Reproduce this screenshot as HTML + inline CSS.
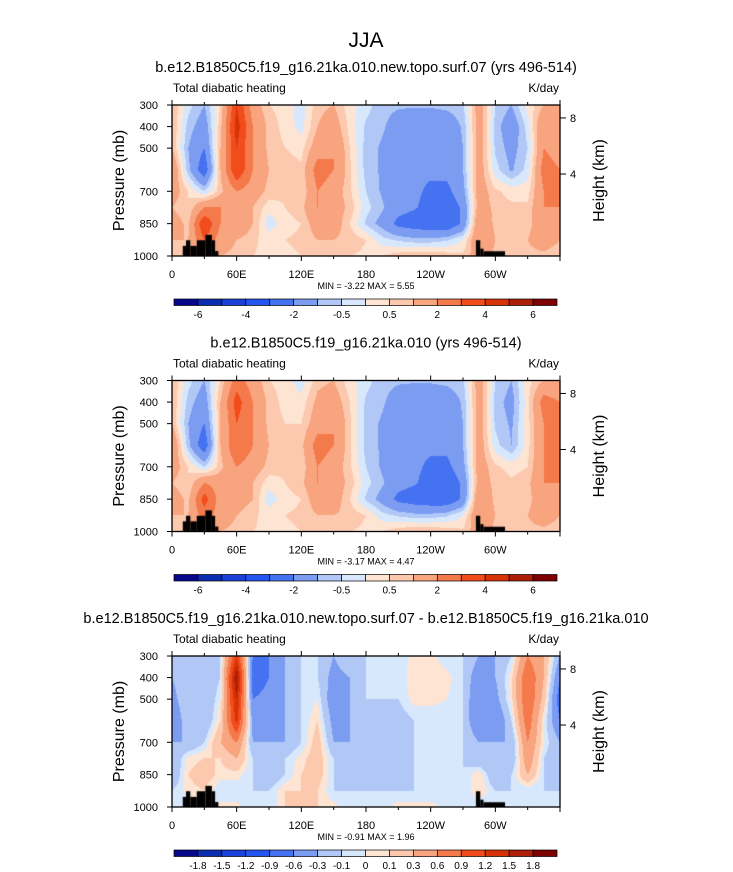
<!DOCTYPE html>
<html><head><meta charset="utf-8"><style>
body{margin:0;background:#fff;}
#wrap{position:relative;width:733px;height:872px;overflow:hidden;font-family:"Liberation Sans",Arial,sans-serif;}
canvas{position:absolute;left:0;top:0;}
svg{position:absolute;left:0;top:0;}
</style></head><body>
<div id="wrap">
<canvas id="cv" width="733" height="872"></canvas>
<svg id="sv" width="733" height="872"></svg>
</div>
<script>
// ---------- data ----------
const lons = [0,15,30,45,60,75,90,105,120,135,150,165,180,195,210,225,240,255,270,285,300,315,330,345,360];
const levels = [300,400,500,600,700,775,850,925,1000];
const field1 = [
[1,-0.3,-1,0.5,4,1.5,0.5,0.3,-0.3,0.8,1,0.2,-0.3,-0.8,-0.9,-0.9,-0.9,-0.8,-0.6,1.5,-0.5,-1,0.2,1,1],
[1,-0.7,-1.5,0.8,4.5,2,0.8,0.3,-0.2,1,1.5,0.3,-0.6,-0.9,-1.4,-1.7,-1.7,-1.6,-0.9,1.5,-0.7,-1.6,-0.3,2,1],
[1,-1,-2,1,4,2,0.8,0.5,0.3,1.5,2,0.5,-0.7,-1.1,-1.6,-1.8,-1.8,-1.7,-1,1.5,-0.6,-1.3,-0.5,2,1.5],
[2,-0.8,-2.8,1,4,2,1,0.8,0.6,2.5,2,0.6,-0.7,-1.1,-1.6,-1.8,-1.8,-1.7,-1,1.5,-0.3,-1.1,-0.3,2.5,2],
[1.5,0.5,-0.5,0.8,2,1.5,0.8,0.6,0.5,2,1.5,0.6,-0.5,-1.1,-1.6,-1.8,-2.2,-2.3,-1.3,1.5,0.6,0.3,0.3,2,2],
[1,0.5,2,2,1.5,1,0.2,0.5,0.8,2,1.5,0.8,-0.3,-0.9,-1.6,-1.9,-2.4,-2.8,-1.8,1.5,0.8,0.6,0.6,2,2],
[1.5,0.8,4,2,2,1,-0.3,0.3,0.5,1.5,1.5,0.5,-0.6,-1.3,-2.3,-2.6,-2.8,-3,-1.8,2,0.8,0.8,0.8,1.5,1.5],
[1,1,3,1.5,1,0.6,0.3,0.5,0.6,1,1,0.8,0.5,-0.3,-0.6,-0.8,-0.8,-0.6,0,2,1,1,1,1.5,1],
[0.6,0.8,1.5,1,0.8,0.5,0.4,0.4,0.5,0.6,0.6,0.5,0.4,0.5,0.8,1,1,0.8,0.6,1.5,0.8,0.8,0.8,0.8,0.6]];
const field2 = [
[1,-0.3,-1,0.5,2.5,1.5,0.5,0.3,-0.3,0.8,1,0.2,-0.3,-0.8,-0.9,-0.9,-0.9,-0.8,-0.6,1.5,-0.5,-1,0.3,1,1],
[1,-0.7,-1.5,1,3.5,2,0.8,0.3,0.2,1.2,1.5,0.5,-0.6,-0.9,-1.4,-1.7,-1.7,-1.6,-0.9,1.5,-0.7,-1.3,0.3,2.5,2],
[1,-1,-2,1,3,2,0.8,0.5,0.5,1.5,2,0.6,-0.7,-1.1,-1.6,-1.8,-1.8,-1.7,-1,1.5,-0.6,-1.1,0.3,2,2],
[2,-0.8,-2.8,1,3,2,1,0.8,0.8,2.5,2,0.6,-0.7,-1.1,-1.6,-1.8,-1.8,-1.7,-1,1.5,-0.3,-1,0.3,2,2],
[1.5,0.5,-0.5,0.8,2,1.5,0.8,0.6,0.6,2,1.5,0.6,-0.5,-1.1,-1.6,-1.8,-2.2,-2.3,-1.3,1.5,0.6,0.3,0.5,2,2],
[1,0.5,2,1.5,1.5,1,0.2,0.5,0.8,2,1.5,0.8,-0.3,-0.9,-1.6,-1.9,-2.4,-2.8,-1.8,1.5,0.8,0.6,0.8,2,2],
[1.5,0.8,3.5,1.5,1.5,1,-0.3,0.3,0.5,1.5,1.5,0.5,-0.6,-1.3,-2.3,-2.6,-2.8,-2.9,-1.8,2,0.8,0.8,0.8,1.5,1.5],
[1,1,2.5,1.5,1,0.6,0.3,0.5,0.6,1,1,0.8,0.5,-0.3,-0.6,-0.8,-0.8,-0.6,0,2,1,1,1,1.5,1],
[0.6,0.8,1.5,1,0.8,0.5,0.4,0.4,0.5,0.6,0.6,0.5,0.4,0.5,0.8,1,1,0.8,0.6,1.5,0.8,0.8,0.8,0.8,0.6]];
const field3 = [
[-0.3,-0.1,-0.2,-0.1,1.2,-0.6,-0.6,-0.3,-0.1,-0.1,-0.3,-0.1,-0.1,-0.1,-0.1,0.05,0.05,-0.1,-0.1,-0.3,-0.3,-0.1,0.6,0.3,-0.3],
[-0.3,-0.1,-0.3,-0.1,1.8,-0.8,-0.6,-0.3,-0.1,-0.1,-0.4,-0.3,-0.1,-0.1,-0.1,0.1,0.1,0.05,-0.1,-0.5,-0.3,0.05,0.9,0.3,-0.6],
[-0.4,-0.1,-0.3,0,1.5,-0.6,-0.5,-0.3,-0.1,0,-0.5,-0.3,-0.1,-0.1,-0.1,0.05,0.05,0,-0.1,-0.6,-0.4,0.05,0.9,0.2,-0.8],
[-0.6,-0.1,-0.3,0.1,1.3,-0.4,-0.4,-0.3,-0.1,0.1,-0.4,-0.3,-0.3,-0.3,-0.2,-0.1,-0.1,-0.1,-0.1,-0.6,-0.6,-0.1,0.8,0,-0.6],
[-0.3,-0.3,-0.1,0.3,0.6,-0.3,-0.3,-0.3,-0.1,0.2,-0.3,-0.3,-0.3,-0.3,-0.2,-0.1,-0.1,-0.1,-0.1,-0.3,-0.3,-0.3,0.6,0,-0.3],
[-0.3,0.05,0.1,0.1,0.3,-0.1,-0.3,-0.1,0.05,0.2,-0.1,-0.3,-0.3,-0.2,-0.1,-0.1,-0.1,-0.1,-0.1,-0.3,-0.3,-0.3,0.5,-0.1,-0.3],
[-0.3,0.1,0.2,0.05,0.05,-0.1,-0.3,-0.1,0.1,0.2,-0.1,-0.3,-0.3,-0.1,-0.3,-0.1,-0.1,-0.1,-0.1,0.1,-0.3,-0.1,0.3,-0.1,-0.3],
[-0.1,0.05,0.1,-0.1,-0.1,-0.1,-0.1,0.1,0.1,0.1,-0.1,-0.1,-0.1,-0.1,-0.1,-0.1,-0.1,-0.1,-0.1,0.1,-0.1,-0.1,-0.1,-0.1,-0.1],
[-0.1,-0.1,-0.1,0.05,0.05,-0.1,-0.1,0.1,0.1,0.1,0.05,-0.1,-0.1,-0.05,0.05,0.05,0.05,-0.05,-0.1,-0.1,-0.1,-0.1,-0.1,-0.1,-0.1]];
const bounds12 = [-6,-5,-4,-3,-2,-1,-0.5,0,0.5,1,2,3,4,5,6];
const bounds3 = [-1.8,-1.5,-1.2,-0.9,-0.6,-0.3,-0.1,0,0.1,0.3,0.6,0.9,1.2,1.5,1.8];
const labels12 = ["-6","-4","-2","-0.5","0.5","2","4","6"];
const labels3 = ["-1.8","-1.5","-1.2","-0.9","-0.6","-0.3","-0.1","0","0.1","0.3","0.6","0.9","1.2","1.5","1.8"];
const colors = ["#06078a","#0b2cb0","#1a42d8","#2555f0","#4572f0","#7c9cf2","#b1c8f7","#d8e8fc","#fde4d3","#fcc9ae","#f8a47f","#f47a4c","#f24c1d","#d73307","#ae1f0a","#7e0101"];
const topoLon = [10,13,17,23,31,37,40,43,282,286,289,309];
const topoP   = [953,927,953,927,902,927,977,1000,927,966,978,1000];
const xTickLon = [0,60,120,180,240,300];
const xTickLab = ["0","60E","120E","180","120W","60W"];
const yTickP = [300,400,500,700,850,1000];
const hTickP = [360,620];
const hTickLab = ["8","4"];
const panels = [
 {title:"b.e12.B1850C5.f19_g16.21ka.010.new.topo.surf.07 (yrs 496-514)",top:105,field:field1,bounds:bounds12,labs:labels12,every:2,minmax:"MIN =  -3.22  MAX =   5.55"},
 {title:"b.e12.B1850C5.f19_g16.21ka.010 (yrs 496-514)",top:380.5,field:field2,bounds:bounds12,labs:labels12,every:2,minmax:"MIN =  -3.17  MAX =   4.47"},
 {title:"b.e12.B1850C5.f19_g16.21ka.010.new.topo.surf.07 - b.e12.B1850C5.f19_g16.21ka.010",top:656,field:field3,bounds:bounds3,labs:labels3,every:1,minmax:"MIN =  -0.91  MAX =   1.96"}];
// ---------- drawing ----------
const X0=172,X1=560,H=151;
const ctx=document.getElementById('cv').getContext('2d');
const sv=document.getElementById('sv');
const NS="http://www.w3.org/2000/svg";
function el(tag,attrs,txt){const e=document.createElementNS(NS,tag);for(const k in attrs)e.setAttribute(k,attrs[k]);if(txt!==undefined)e.textContent=txt;sv.appendChild(e);return e;}
const xs=lon=>X0+(lon/360)*(X1-X0);
function interp(field,lon,p){
  let i=Math.min(lons.length-2,Math.floor(lon/15));let tx=(lon-lons[i])/15;
  let j=0;while(j<levels.length-2&&p>levels[j+1])j++;
  let ty=(p-levels[j])/(levels[j+1]-levels[j]);
  const a=field[j][i],b=field[j][i+1],c=field[j+1][i],d=field[j+1][i+1];
  return a*(1-tx)*(1-ty)+b*tx*(1-ty)+c*(1-tx)*ty+d*tx*ty;}
function bin(v,b){v=Math.round(v*1e6)/1e6;let k=0;while(k<b.length&&v>=b[k])k++;return k;}
panels.forEach((P,pi)=>{
  const ys=p=>P.top+(p-300)/700*H;
  for(let py=Math.floor(P.top);py<P.top+H;py++){
    const p=300+(py+0.5-P.top)/H*700;
    for(let px=X0;px<X1;px++){
      const lon=(px+0.5-X0)/(X1-X0)*360;
      ctx.fillStyle=colors[bin(interp(P.field,lon,p),P.bounds)];
      ctx.fillRect(px,py,1,1);}}
  ctx.fillStyle="#000";
  let prevLon=null;
  topoLon.forEach((lo,k)=>{
    if(k===0||k===8){prevLon=lo;return;}
    const pp=topoP[k-1];
    ctx.fillRect(xs(prevLon),ys(pp),xs(lo)-xs(prevLon),ys(1000)-ys(pp));
    prevLon=lo;});
  const g=P.top;
  const t=el('text',{x:366,y:g-33,'font-size':14.5,'text-anchor':'middle'},P.title);
  
  const l=el('text',{x:173,y:g-13,'font-size':12},"Total diabatic heating");
  
  const r=el('text',{x:559,y:g-13,'font-size':12,'text-anchor':'end'},"K/day");
  
  const fr=el('rect',{x:X0,y:g,width:X1-X0,height:H,fill:'none',stroke:'#000','stroke-width':1.3});
  
  for(let lo=0;lo<=360;lo+=30){
    const len=lo%60===0?5:3;
    el('line',{x1:xs(lo),x2:xs(lo),y1:g+H,y2:g+H+len,stroke:'#000'});
    el('line',{x1:xs(lo),x2:xs(lo),y1:g,y2:g-len,stroke:'#000'});}
  xTickLon.forEach((lo,k)=>{const e=el('text',{x:xs(lo),y:g+H+22,'font-size':11,'text-anchor':'middle'},xTickLab[k]);
    });
  yTickP.forEach(p=>{el('line',{x1:X0-5,x2:X0,y1:ys(p),y2:ys(p),stroke:'#000'});
    const e=el('text',{x:X0-14,y:ys(p)+4,'font-size':11,'text-anchor':'end'},String(p));
    });
  hTickP.forEach((p,k)=>{el('line',{x1:X1,x2:X1+6,y1:ys(p),y2:ys(p),stroke:'#000'});
    const e=el('text',{x:X1+10,y:ys(p)+4,'font-size':11},hTickLab[k]);
    });
  const ya=el('text',{x:0,y:0,'font-size':16,'text-anchor':'middle',transform:`translate(124,${g+H/2}) rotate(-90)`},"Pressure (mb)");
  
  const ha=el('text',{x:0,y:0,'font-size':16,'text-anchor':'middle',transform:`translate(604,${g+H/2}) rotate(-90)`},"Height (km)");
  
  const mm=el('text',{x:366,y:g+H+33,'font-size':9,'text-anchor':'middle'},P.minmax);
  
  const cy=g+H+43,cx0=174,cw=(557-174)/16;
  colors.forEach((c,k)=>{const b=el('rect',{x:cx0+k*cw,y:cy,width:cw,height:6.5,fill:c,stroke:'#000','stroke-width':0.7});
    });
  P.bounds.forEach((v,k)=>{
    if(P.every===2&&k%2===1)return;
    const lab=P.every===2?P.labs[k/2]:P.labs[k];
    const e=el('text',{x:cx0+(k+1)*cw,y:cy+19,'font-size':10,'text-anchor':'middle'},lab);
    });
});
const mt=el('text',{x:366,y:47,'font-size':21,'text-anchor':'middle'},"JJA");


</script>
</body></html>
